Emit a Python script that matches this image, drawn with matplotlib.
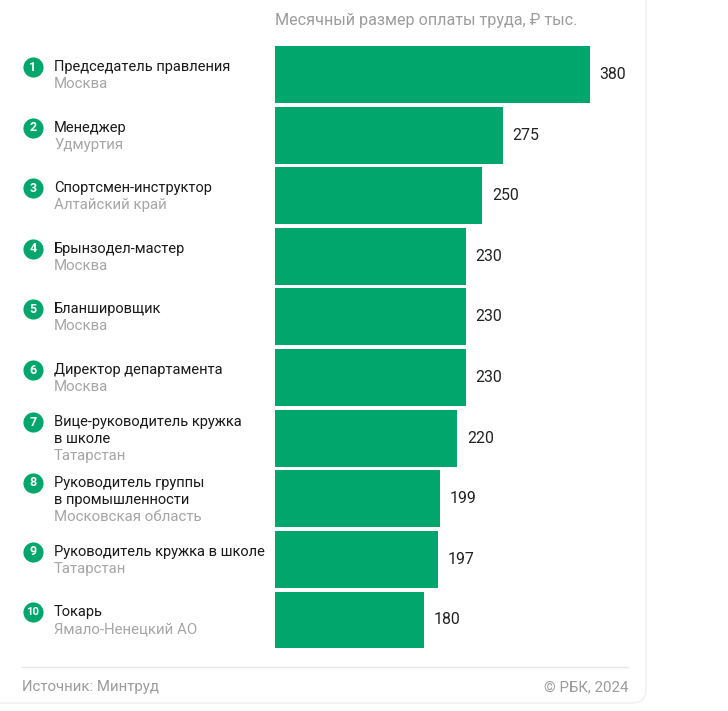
import matplotlib
matplotlib.use("Agg")
import matplotlib.pyplot as plt
import matplotlib.transforms as mtransforms
from matplotlib.patches import FancyBboxPatch
from matplotlib.lines import Line2D

plt.rcParams['font.family'] = ['Roboto', 'DejaVu Sans']

titles = [
    ["Председатель правления"],
    ["Менеджер"],
    ["Спортсмен-инструктор"],
    ["Брынзодел-мастер"],
    ["Бланшировщик"],
    ["Директор департамента"],
    ["Вице-руководитель кружка", "в школе"],
    ["Руководитель группы", "в промышленности"],
    ["Руководитель кружка в школе"],
    ["Токарь"],
]
regions = ["Москва", "Удмуртия", "Алтайский край", "Москва", "Москва", "Москва",
           "Татарстан", "Московская область", "Татарстан", "Ямало-Ненецкий АО"]
values = [380, 275, 250, 230, 230, 230, 220, 199, 197, 180]
title_text = "Месячный размер оплаты труда, ₽ тыс."
source_text = "Источник: Минтруд"
copyright_text = "© РБК, 2024"

GREEN = "#00A66B"
W, H = 728, 711
fig = plt.figure(figsize=(W / 100, H / 100), dpi=100)
fig.patch.set_facecolor("white")

# card border
card = FancyBboxPatch((-20 / W, 8 / H), 666 / W, 720 / H,
                      boxstyle="round,pad=0,rounding_size=0.02",
                      transform=fig.transFigure, fc="none", ec="#efefef", lw=1.0)
fig.add_artist(card)

ax_left = 275
scale = 315 / 380.0  # px per unit
ax_w = W - ax_left
top_px, bot_px = 44.2, 650.3
ax = fig.add_axes([ax_left / W, 1 - bot_px / H, ax_w / W, (bot_px - top_px) / H])
ax.set_xlim(0, ax_w / scale)
n = len(values)
ax.set_ylim(n - 0.5, -0.5)
ax.axis("off")

ypos = list(range(n))
ax.barh(ypos, values, height=0.94, color=GREEN, edgecolor="none")

for i, v in enumerate(values):
    ax.annotate(str(v), xy=(v, i), xytext=(7.0, 0), textcoords="offset points",
                ha="left", va="center", fontsize=11.4, color="#222222")

blend = mtransforms.blended_transform_factory(fig.transFigure, ax.transData)
line_h = 17  # px
for i in range(n):
    lines = titles[i] + [regions[i]]
    k = len(lines)
    for j, s in enumerate(lines):
        dy_px = 1 + (j - (k - 1) / 2) * line_h
        off = mtransforms.ScaledTranslation(0, -dy_px / 100, fig.dpi_scale_trans)
        is_region = (j == k - 1)
        ax.text(54 / W, i, s, transform=blend + off, ha="left", va="center",
                fontsize=10.5 if not is_region else 10.8,
                color="#1a1a1a" if not is_region else "#a6a6a6", clip_on=False)
        if j == 0:
            ln = Line2D([33 / W], [i], transform=blend + off, marker="o",
                        markersize=14.5, color=GREEN, markeredgewidth=0, clip_on=False)
            ax.add_artist(ln)
            ax.text(33 / W, i, str(i + 1), transform=blend + off, ha="center", va="center",
                    fontsize=9.0 if i < 9 else 8.2, color="white", fontweight="bold", clip_on=False)

fig.text(275 / W, 1 - 20 / H, title_text, ha="left", va="center", fontsize=11.6, color="#9c9c9c")

fig.add_artist(Line2D([22 / W, 628 / W], [1 - 667 / H, 1 - 667 / H],
                      transform=fig.transFigure, color="#e6e6e6", lw=1.0))
fig.text(22 / W, 1 - 687 / H, source_text, ha="left", va="center", fontsize=10.8, color="#9c9c9c")
fig.text(628 / W, 1 - 687 / H, copyright_text, ha="right", va="center", fontsize=10.8, color="#9c9c9c")

fig.savefig("out.png", dpi=100, facecolor="white")
